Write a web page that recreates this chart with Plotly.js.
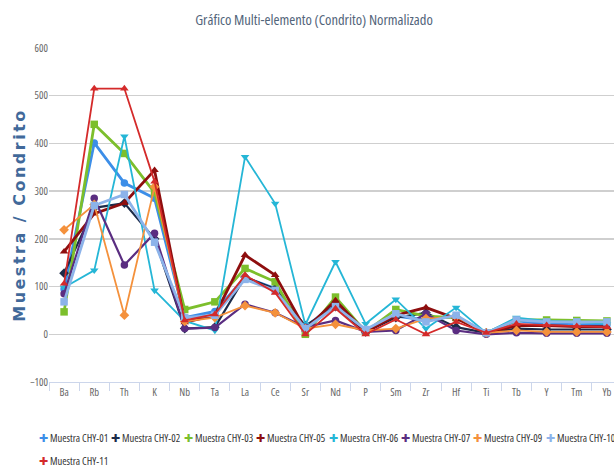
<!DOCTYPE html>
<html>
<head>
<meta charset="utf-8">
<script src="https://cdn.plot.ly/plotly-3.0.1.min.js"></script>
<style>
html, body { margin: 0; padding: 0; overflow: hidden; background: #fff; width: 614px; height: 467px; }
#chart { width: 630px; height: 467px; }
svg text { font-stretch: 75%; }
svg text.ytitle { font-stretch: normal; letter-spacing: 2.5px; }
</style>
</head>
<body>
<div id="chart"></div>
<script>
const categories = ["Ba","Rb","Th","K","Nb","Ta","La","Ce","Sr","Nd","P","Sm","Zr","Hf","Ti","Tb","Y","Tm","Yb"];

const chy01 = [95, 401, 317, 285, 35, 48, 119, 96, 15, 65, 8, 38, 30, 38, 3, 28, 22, 20, 20];
const chy02 = [128, 265, 275, 200, 12, 15, 120, 95, 18, 58, 5, 35, 45, 15, 3, 12, 10, 10, 10];
const chy03 = [47, 440, 379, 297, 52, 68, 138, 110, 0, 78, 5, 52, 38, 35, 3, 30, 30, 29, 28];
const chy05 = [173, 253, 275, 344, 25, 40, 166, 124, 10, 71, 5, 40, 56, 33, 3, 18, 18, 16, 16];
const chy06 = [98, 134, 415, 92, 28, 8, 372, 274, 20, 152, 22, 73, 12, 56, 3, 35, 28, 26, 22];
const chy07 = [85, 285, 145, 212, 12, 14, 63, 45, 15, 29, 5, 8, 43, 8, 0, 3, 2, 2, 2];
const chy09 = [219, 272, 40, 309, 27, 35, 60, 45, 12, 21, 8, 12, 33, 37, 3, 8, 5, 5, 5];
const chy10 = [68, 270, 293, 193, 35, 40, 115, 92, 12, 58, 10, 43, 26, 40, 3, 30, 26, 26, 26];
const chy11 = [106, 515, 515, 320, 29, 42, 124, 87, 0, 54, 0, 31, 0, 26, 3, 22, 19, 17, 15];

const seriesNames = ["Muestra CHY-01","Muestra CHY-02","Muestra CHY-03","Muestra CHY-05","Muestra CHY-06","Muestra CHY-07","Muestra CHY-09","Muestra CHY-10","Muestra CHY-11"];
const seriesValues = [chy01, chy02, chy03, chy05, chy06, chy07, chy09, chy10, chy11];
const seriesColors = ["#3c8ee8","#1c2b49","#7cbf2c","#8e0e0e","#25b6d6","#5a2d81","#f4913c","#8cb3ea","#d42a2a"];
const seriesSymbols = ["circle","diamond","square","triangle-up","triangle-down","circle","diamond","square","triangle-up"];
const seriesWidths = [2.8, 2.2, 2.8, 2.8, 1.8, 2.2, 1.8, 2.8, 1.8];

const narrowFont = "Open Sans, sans-serif";

const traces = seriesNames.map((n, i) => ({
  type: "scatter",
  mode: "lines+markers",
  name: n,
  x: categories,
  y: seriesValues[i],
  line: { color: seriesColors[i], width: seriesWidths[i] },
  marker: { color: seriesColors[i], symbol: seriesSymbols[i], size: 7.5 },
  showlegend: false
}));

const mL = 49, mR = 8, mT = 48, mB = 85, W = 630, H = 467;
const pw = W - mL - mR, ph = H - mT - mB;
const annotations = seriesNames.map((n, i) => {
  const row = i < 8 ? 0 : 1;
  const col = i < 8 ? i : 0;
  const cx = 43 + col * 72.4;
  const cy = row === 0 ? 438 : 461;
  return {
    xref: "paper", yref: "paper",
    x: (cx - 6 - mL) / pw,
    y: (H - mB - cy) / ph,
    xanchor: "left", yanchor: "middle",
    showarrow: false,
    text: "<span style='color:" + seriesColors[i] + "'>✚</span> " + n,
    font: { family: narrowFont, size: 10.5, color: "#333333" }
  };
});

const layout = {
  width: W, height: H,
  margin: { l: mL, r: mR, t: mT, b: mB },
  paper_bgcolor: "#ffffff",
  plot_bgcolor: "#ffffff",
  showlegend: false,
  title: {
    text: "Gráfico Multi-elemento (Condrito) Normalizado",
    font: { family: narrowFont, size: 14.5, color: "#52647a" },
    xref: "container", x: 314 / W, xanchor: "center",
    yref: "container", y: 1 - 20 / H, yanchor: "middle"
  },
  xaxis: {
    type: "category",
    range: [-0.5, 18.5],
    showgrid: false,
    showline: true, linecolor: "#ccd6eb", linewidth: 1,
    ticks: "outside", tickson: "boundaries", ticklen: 8, tickcolor: "#ccd6eb",
    tickfont: { family: narrowFont, size: 10.5, color: "#666666" },
    zeroline: false,
    fixedrange: true
  },
  yaxis: {
    range: [-100, 600],
    tickvals: [-100, 0, 100, 200, 300, 400, 500, 600],
    showgrid: true, gridcolor: "#cfcfcf", gridwidth: 1.5,
    zeroline: false,
    showline: false,
    ticks: "",
    tickfont: { family: narrowFont, size: 10.5, color: "#666666" },
    title: {
      text: "Muestra / Condrito",
      font: { family: "DejaVu Sans, sans-serif", size: 16, color: "#41699a", weight: "bold" },
      standoff: 0
    },
    automargin: false,
    fixedrange: true
  },
  annotations: annotations
};

Plotly.newPlot("chart", traces, layout, { displayModeBar: false, staticPlot: true });
</script>
</body>
</html>
